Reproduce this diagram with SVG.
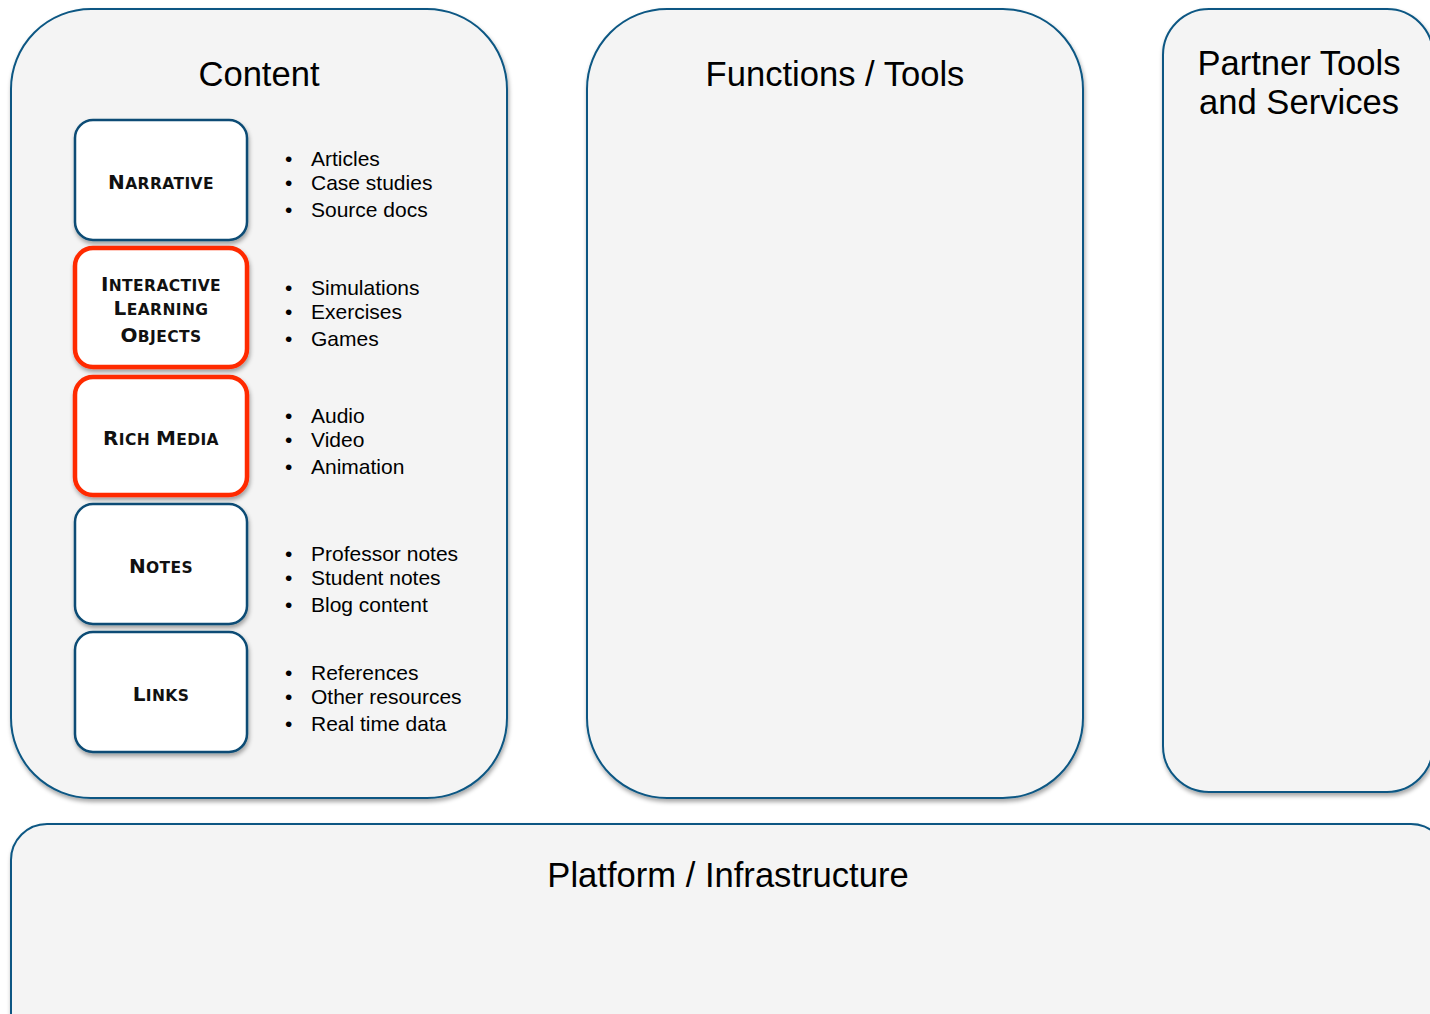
<svg xmlns="http://www.w3.org/2000/svg" width="1430" height="1014" viewBox="0 0 1430 1014">
<defs>
<filter id="sh" x="-10%" y="-10%" width="130%" height="130%">
<feDropShadow dx="1" dy="3" stdDeviation="2" flood-color="#000" flood-opacity="0.35"/>
</filter>
</defs>
<style>
.panel{fill:#f4f4f4;stroke:#0a5783;stroke-width:2;filter:url(#sh)}
.box{fill:#ffffff;stroke:#0a4c74;stroke-width:2.5;filter:url(#sh)}
.hot{fill:#ffffff;stroke:#ff2a00;stroke-width:4.5;filter:url(#sh)}
.title{font-family:"Liberation Sans",Arial,sans-serif;font-size:34.6px;fill:#000;text-anchor:middle}
.lab{font-family:"DejaVu Sans","Liberation Sans",sans-serif;font-weight:bold;fill:#111;text-anchor:middle;letter-spacing:0.4px}
.big{font-size:20px}
.sm{font-size:15.5px}
.li{font-family:"Liberation Sans",Arial,sans-serif;font-size:21px;fill:#000}
</style>
<rect width="1430" height="1014" fill="#ffffff"/>
<g id="content">
<rect class="panel" x="11" y="9" width="496" height="789" rx="80" ry="80"/>
<text class="title" x="259" y="86">Content</text>
</g>
<g id="functions">
<rect class="panel" x="587" y="9" width="496" height="789" rx="80" ry="80"/>
<text class="title" x="835" y="86">Functions / Tools</text>
</g>
<g id="partner">
<rect class="panel" x="1163" y="9" width="270" height="783" rx="46" ry="46"/>
<text class="title" x="1299" y="75">Partner Tools</text>
<text class="title" x="1299" y="114">and Services</text>
</g>
<g id="platform">
<rect class="panel" x="11" y="824" width="1436" height="230" rx="36" ry="36"/>
<text class="title" x="728" y="887">Platform / Infrastructure</text>
</g>
<g id="narrative">
<rect class="box" x="75" y="120" width="172" height="120" rx="18" ry="18"/>
<text class="lab" x="161" y="189"><tspan class="big">N</tspan><tspan class="sm">ARRATIVE</tspan></text>
</g>
<g id="ilo">
<rect class="hot" x="75" y="248" width="172" height="119" rx="18" ry="18"/>
<text class="lab" x="161" y="291"><tspan class="big">I</tspan><tspan class="sm">NTERACTIVE</tspan></text>
<text class="lab" x="161" y="315"><tspan class="big">L</tspan><tspan class="sm">EARNING</tspan></text>
<text class="lab" x="161" y="342"><tspan class="big">O</tspan><tspan class="sm">BJECTS</tspan></text>
</g>
<g id="richmedia">
<rect class="hot" x="75" y="377" width="172" height="118" rx="18" ry="18"/>
<text class="lab" x="161" y="445"><tspan class="big">R</tspan><tspan class="sm">ICH </tspan><tspan class="big">M</tspan><tspan class="sm">EDIA</tspan></text>
</g>
<g id="notes">
<rect class="box" x="75" y="504" width="172" height="120" rx="18" ry="18"/>
<text class="lab" x="161" y="573"><tspan class="big">N</tspan><tspan class="sm">OTES</tspan></text>
</g>
<g id="links">
<rect class="box" x="75" y="632" width="172" height="120" rx="18" ry="18"/>
<text class="lab" x="161" y="701"><tspan class="big">L</tspan><tspan class="sm">INKS</tspan></text>
</g>
<g id="lists">
<text class="li" x="285" y="166">•</text><text class="li" x="311" y="166">Articles</text>
<text class="li" x="285" y="190">•</text><text class="li" x="311" y="190">Case studies</text>
<text class="li" x="285" y="217">•</text><text class="li" x="311" y="217">Source docs</text>
<text class="li" x="285" y="295">•</text><text class="li" x="311" y="295">Simulations</text>
<text class="li" x="285" y="319">•</text><text class="li" x="311" y="319">Exercises</text>
<text class="li" x="285" y="346">•</text><text class="li" x="311" y="346">Games</text>
<text class="li" x="285" y="423">•</text><text class="li" x="311" y="423">Audio</text>
<text class="li" x="285" y="447">•</text><text class="li" x="311" y="447">Video</text>
<text class="li" x="285" y="474">•</text><text class="li" x="311" y="474">Animation</text>
<text class="li" x="285" y="561">•</text><text class="li" x="311" y="561">Professor notes</text>
<text class="li" x="285" y="585">•</text><text class="li" x="311" y="585">Student notes</text>
<text class="li" x="285" y="612">•</text><text class="li" x="311" y="612">Blog content</text>
<text class="li" x="285" y="680">•</text><text class="li" x="311" y="680">References</text>
<text class="li" x="285" y="704">•</text><text class="li" x="311" y="704">Other resources</text>
<text class="li" x="285" y="731">•</text><text class="li" x="311" y="731">Real time data</text>
</g>
<g id="connectors"/>
</svg>
